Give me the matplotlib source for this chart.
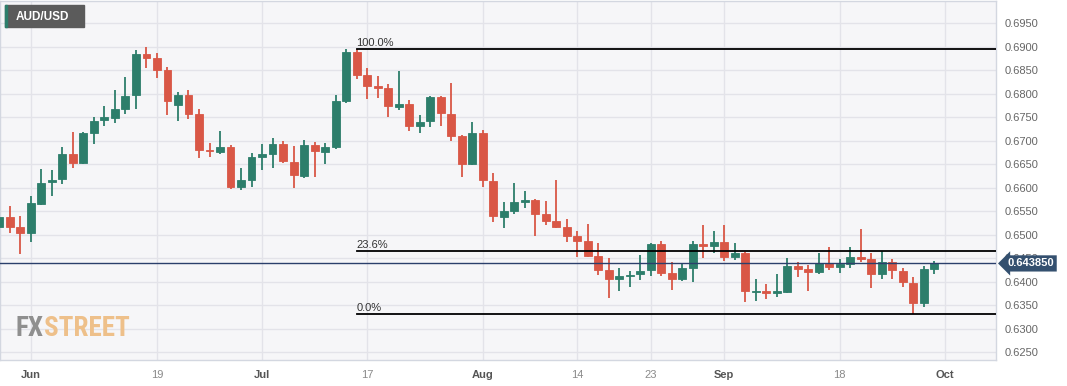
import matplotlib
matplotlib.use("Agg")
import matplotlib.pyplot as plt
import matplotlib.transforms as mtransforms
import numpy as np
import pandas as pd

# ── data (AUD/USD daily) ─────────────────────────────────────────────────
dates = pd.bdate_range("2023-05-29", "2023-09-29")
opens = [0.6516, 0.6538, 0.6517, 0.6503, 0.6566, 0.6611, 0.6618, 0.6671, 0.6652, 0.6717,
         0.6743, 0.6748, 0.6768, 0.6796, 0.6885, 0.6876, 0.6851, 0.6776, 0.6796, 0.6756,
         0.6679, 0.6676, 0.6686, 0.6602, 0.6617, 0.6665, 0.6672, 0.6693, 0.6654, 0.6625,
         0.6691, 0.6675, 0.6687, 0.6785, 0.6888, 0.6840, 0.6817, 0.6812, 0.6772, 0.6778,
         0.6732, 0.6741, 0.6792, 0.6757, 0.6709, 0.6651, 0.6716, 0.6613, 0.6538, 0.6551,
         0.6569, 0.6574, 0.6544, 0.6528, 0.6516, 0.6497, 0.6487, 0.6455, 0.6425, 0.6405,
         0.6411, 0.6416, 0.6425, 0.6480, 0.6418, 0.6405, 0.6429, 0.6480, 0.6476, 0.6484,
         0.6453, 0.6461, 0.6377, 0.6379, 0.6376, 0.6377, 0.6434, 0.6426, 0.6421, 0.6439,
         0.6430, 0.6438, 0.6453, 0.6448, 0.6416, 0.6441, 0.6423, 0.6397, 0.6354, 0.6426]
highs = [0.6553, 0.6561, 0.6540, 0.6583, 0.6639, 0.6638, 0.6686, 0.6718, 0.6718, 0.6750,
         0.6773, 0.6807, 0.6835, 0.6892, 0.6899, 0.6886, 0.6856, 0.6804, 0.6808, 0.6767,
         0.6695, 0.6721, 0.6690, 0.6642, 0.6673, 0.6693, 0.6705, 0.6700, 0.6689, 0.6702,
         0.6696, 0.6695, 0.6796, 0.6895, 0.6895, 0.6854, 0.6838, 0.6820, 0.6848, 0.6787,
         0.6755, 0.6795, 0.6795, 0.6822, 0.6712, 0.6739, 0.6723, 0.6630, 0.6569, 0.6610,
         0.6592, 0.6575, 0.6571, 0.6617, 0.6533, 0.6508, 0.6522, 0.6482, 0.6450, 0.6429,
         0.6423, 0.6457, 0.6482, 0.6487, 0.6441, 0.6437, 0.6487, 0.6521, 0.6507, 0.6521,
         0.6482, 0.6463, 0.6405, 0.6395, 0.6416, 0.6450, 0.6441, 0.6436, 0.6461, 0.6473,
         0.6448, 0.6473, 0.6512, 0.6461, 0.6464, 0.6448, 0.6429, 0.6410, 0.6432, 0.6444]
lows = [0.6506, 0.6503, 0.6459, 0.6484, 0.6563, 0.6581, 0.6608, 0.6641, 0.6650, 0.6693,
        0.6732, 0.6737, 0.6757, 0.6767, 0.6854, 0.6833, 0.6754, 0.6742, 0.6746, 0.6663,
        0.6666, 0.6671, 0.6597, 0.6594, 0.6602, 0.6638, 0.6641, 0.6652, 0.6599, 0.6620,
        0.6623, 0.6651, 0.6682, 0.6780, 0.6831, 0.6788, 0.6790, 0.6750, 0.6764, 0.6721,
        0.6716, 0.6728, 0.6731, 0.6700, 0.6623, 0.6649, 0.6602, 0.6527, 0.6514, 0.6544,
        0.6556, 0.6496, 0.6521, 0.6514, 0.6485, 0.6453, 0.6452, 0.6414, 0.6365, 0.6379,
        0.6388, 0.6404, 0.6411, 0.6412, 0.6381, 0.6402, 0.6400, 0.6450, 0.6461, 0.6443,
        0.6446, 0.6357, 0.6359, 0.6363, 0.6368, 0.6375, 0.6410, 0.6379, 0.6416, 0.6425,
        0.6418, 0.6428, 0.6441, 0.6386, 0.6405, 0.6405, 0.6388, 0.6331, 0.6345, 0.6416]
closes = [0.6538, 0.6517, 0.6503, 0.6567, 0.6610, 0.6617, 0.6671, 0.6652, 0.6716, 0.6742,
          0.6750, 0.6767, 0.6795, 0.6885, 0.6876, 0.6851, 0.6785, 0.6796, 0.6757, 0.6679,
          0.6677, 0.6686, 0.6601, 0.6617, 0.6665, 0.6672, 0.6693, 0.6656, 0.6626, 0.6691,
          0.6677, 0.6686, 0.6785, 0.6888, 0.6840, 0.6817, 0.6812, 0.6773, 0.6778, 0.6732,
          0.6739, 0.6792, 0.6759, 0.6710, 0.6651, 0.6716, 0.6615, 0.6540, 0.6551, 0.6569,
          0.6574, 0.6544, 0.6528, 0.6516, 0.6497, 0.6487, 0.6455, 0.6425, 0.6405, 0.6411,
          0.6414, 0.6423, 0.6480, 0.6418, 0.6405, 0.6429, 0.6480, 0.6476, 0.6484, 0.6453,
          0.6461, 0.6379, 0.6380, 0.6376, 0.6379, 0.6434, 0.6426, 0.6421, 0.6439, 0.6430,
          0.6437, 0.6453, 0.6448, 0.6416, 0.6441, 0.6424, 0.6398, 0.6354, 0.6426, 0.64385]

tick_dates = ["2023-06-01", "2023-06-19", "2023-07-03", "2023-07-17", "2023-08-01",
              "2023-08-14", "2023-08-23", "2023-09-01", "2023-09-18", "2023-10-02"]
tick_labels = ["Jun", "19", "Jul", "17", "Aug", "14", "23", "Sep", "18", "Oct"]
month_labels = {"Jun", "Jul", "Aug", "Sep", "Oct"}

fib_start = "2023-07-14"
fib_levels = [1.0, 0.236, 0.0]
fib_names = ["100.0%", "23.6%", "0.0%"]

GREEN = "#2d7e6b"
RED = "#d95746"
SANS = ["Liberation Sans", "DejaVu Sans"]

# ── figure ───────────────────────────────────────────────────────────────
fig = plt.figure(figsize=(10.67, 3.86), dpi=100)
fig.patch.set_facecolor("white")
ax = fig.add_axes([0.0, 0.0674, 0.9335, 0.9300])
ax.set_facecolor("#f6f6f8")

o = np.array(opens); h = np.array(highs); l = np.array(lows); c = np.array(closes)
x = np.arange(len(dates))
up = c >= o
colors = np.where(up, GREEN, RED)

ax.vlines(x, l, h, colors=colors, linewidth=1.3, zorder=3)
body_lo = np.minimum(o, c)
body_h = np.maximum(np.abs(c - o), 0.00035)
ax.bar(x, body_h, bottom=body_lo, width=0.76, color=colors, edgecolor=colors,
       linewidth=0.6, zorder=4)

# grid
all_days = pd.bdate_range("2023-05-29", "2023-10-02")
tick_pos = [all_days.get_loc(pd.Timestamp(d)) for d in tick_dates]
yticks = np.arange(0.625, 0.6951, 0.005)
for yv in yticks:
    ax.axhline(yv, color="#e3e3e9", linewidth=1, zorder=1)
for xv in tick_pos:
    ax.axvline(xv, color="#e3e3e9", linewidth=1, zorder=1)

ax.set_xlim(0.05, 94.9)
ax.set_ylim(0.6233, 0.6997)

# fibonacci retracement
i0 = dates.get_loc(pd.Timestamp(fib_start))
fib_hi = h[i0:].max()
fib_lo = l[i0:].min()
for lvl, name in zip(fib_levels, fib_names):
    yv = fib_lo + lvl * (fib_hi - fib_lo)
    ax.plot([i0, 94.9], [yv, yv], color="black", linewidth=1.3, zorder=5)
    ax.text(i0, yv + 0.0003, name, fontsize=8, color="#333333",
            family=SANS, va="bottom", ha="left", zorder=6)

# last price line
last = c[-1]
ax.axhline(last, color="#2b3f6b", linewidth=1, zorder=5)
trans = mtransforms.blended_transform_factory(ax.transAxes, ax.transData)
ax.text(1.011, last, f"{last:.6f}", transform=trans, fontsize=8, fontweight="bold",
        color="white", va="center", ha="left", family=SANS, zorder=10,
        bbox=dict(boxstyle="larrow,pad=0.28", fc="#34506f", ec="none"), clip_on=False)

# axes styling
for sp in ax.spines.values():
    sp.set_color("#d3d7e0")
    sp.set_linewidth(1)
ax.yaxis.tick_right()
ax.set_yticks(yticks)
ax.set_yticklabels([f"{v:.4f}" for v in yticks])
ax.tick_params(axis="y", length=0, pad=6, labelsize=8, labelcolor="#666666")
ax.set_xticks(tick_pos)
ax.set_xticklabels(tick_labels)
ax.tick_params(axis="x", length=0, pad=7, labelsize=8)
for t in ax.get_xticklabels():
    t.set_family(SANS)
    if t.get_text() in month_labels:
        t.set_color("#555555"); t.set_fontweight("bold")
    else:
        t.set_color("#8a8a8a")
for t in ax.get_yticklabels():
    t.set_family(SANS)

# symbol badge (figure pixel layout: x 5..84, y 5..27 from top)
W, H = 1067, 386
fig.patches.append(plt.Rectangle((5 / W, 1 - 27 / H), 79 / W, 22 / H,
                                 transform=fig.transFigure, color="#5b5b5b", zorder=7))
fig.patches.append(plt.Rectangle((5 / W, 1 - 27 / H), 2.2 / W, 22 / H,
                                 transform=fig.transFigure, color=GREEN, zorder=8))
fig.text(16 / W, 1 - 16.5 / H, "AUD/USD", fontsize=8.5, fontweight="bold", color="white",
         va="center", ha="left", family=SANS, zorder=9)

# watermark
WM = ["Roboto Condensed", "Liberation Sans Narrow", "DejaVu Sans Condensed", "Roboto"]
fx = ax.text(0.016, 0.05, "FX", transform=ax.transAxes, fontsize=19.5, fontweight="bold",
             color="#8f8f8f", va="bottom", ha="left", family=WM, zorder=2)
ax.annotate("STREET", xy=(1, 0), xycoords=fx, fontsize=19.5, fontweight="bold",
            color="#eec08a", va="bottom", ha="left", family=WM, zorder=2)

fig.savefig("out.png", dpi=100)
